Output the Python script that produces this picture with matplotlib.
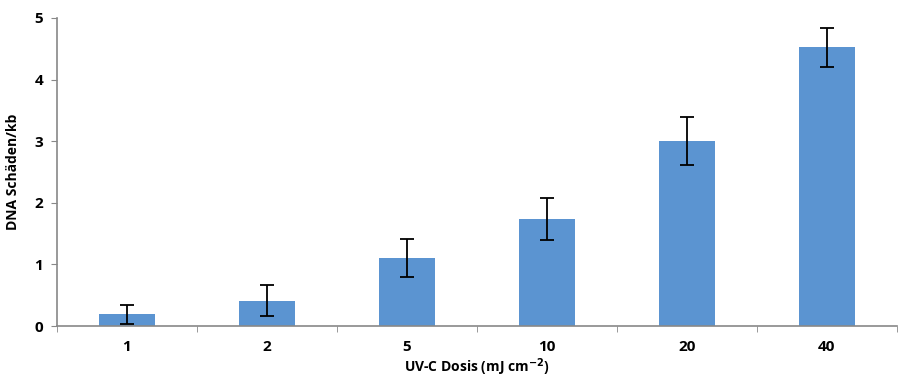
import numpy as np
import matplotlib.pyplot as plt
from matplotlib.ticker import FixedLocator

# Daten
doses = ['1', '2', '5', '10', '20', '40']
damage = [0.19, 0.41, 1.10, 1.74, 3.00, 4.52]
err = [0.15, 0.25, 0.31, 0.34, 0.39, 0.32]

plt.rcParams['font.family'] = ['Open Sans', 'DejaVu Sans']

fig = plt.figure(figsize=(9.04, 3.81), dpi=100)
ax = fig.add_axes([0.063, 0.144, 0.929, 0.809])

x = np.arange(len(doses))
ax.bar(x, damage, width=0.4, color='#5b94d1', zorder=2)
ax.errorbar(x, damage, yerr=err, fmt='none', ecolor='black', elinewidth=1.3,
            capsize=5, capthick=1.3, zorder=3)

ax.set_xlim(-0.5, len(doses) - 0.5)
ax.set_ylim(0, 5)
ax.set_yticks(range(6))
ax.set_xticks(x)
ax.set_xticklabels(doses)
ax.xaxis.set_minor_locator(FixedLocator(np.arange(-0.5, len(doses), 1.0)))
ax.tick_params(axis='x', which='major', length=0, pad=10)
ax.tick_params(axis='x', which='minor', length=4, color='#888888', direction='out')
ax.tick_params(axis='y', length=4, color='#888888', direction='out', pad=6)
for lab in ax.get_xticklabels() + ax.get_yticklabels():
    lab.set_fontweight('bold')
    lab.set_fontsize(11)

for s in ['top', 'right']:
    ax.spines[s].set_visible(False)
for s in ['left', 'bottom']:
    ax.spines[s].set_color('#888888')
    ax.spines[s].set_linewidth(1.2)

ax.set_ylabel('DNA Schäden/kb', fontsize=10, fontweight='bold', labelpad=10)
ax.set_xlabel(r'UV-C Dosis (mJ cm$^{\mathbf{-2}}$)', fontsize=10, fontweight='bold', labelpad=2)

plt.savefig('out.png', dpi=100)
